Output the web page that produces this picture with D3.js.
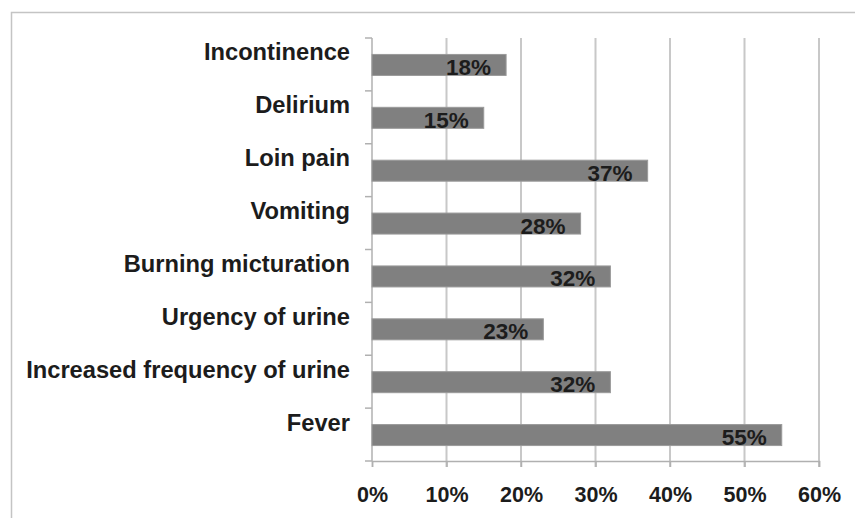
<!DOCTYPE html>
<html>
<head>
<meta charset="utf-8">
<script src="https://cdn.jsdelivr.net/npm/d3@7"></script>
<style>
  body { margin: 0; background: #fff; }
  svg { display: block; }
  text { font-family: "Liberation Sans", Arial, sans-serif; font-weight: bold; fill: #1c1c1c; }
</style>
</head>
<body>
<div class="chart"></div>
<script>
// symptoms, top to bottom
const symptoms = ['Incontinence', 'Delirium', 'Loin pain', 'Vomiting', 'Burning micturation',
    'Urgency of urine', 'Increased frequency of urine', 'Fever'];
const percents = [18, 15, 37, 28, 32, 23, 32, 55];
const xTicks = [0, 10, 20, 30, 40, 50, 60];

const width = 855;
const height = 518;
const margin = {left: 372, right: 36, top: 38, bottom: 57};

const svg = d3.select('.chart').append('svg')
    .attr('width', width)
    .attr('height', height)

// outer chart frame (cropped on right/bottom)
svg.append('path')
    .attr('d', `M11.5,${height} V12.5 H${width}`)
    .attr('fill', 'none')
    .attr('stroke', '#c4c4c4')
    .attr('stroke-width', 1.5)

const x = d3.scaleLinear().domain([0, 60]).range([margin.left, width - margin.right]);
const y = d3.scaleBand().domain(symptoms).range([margin.top, height - margin.bottom]).paddingInner(0).paddingOuter(0);

// gridlines
svg.selectAll('.grid')
    .data(xTicks.slice(1))
    .enter()
    .append('line')
    .attr('x1', d => x(d)).attr('x2', d => x(d))
    .attr('y1', margin.top).attr('y2', height - margin.bottom + 6)
    .attr('stroke', '#c8c8c8')
    .attr('stroke-width', 2)

// bottom axis
const xAxis = svg.append('g')
    .attr('transform', `translate(0,${height - margin.bottom})`)
    .call(d3.axisBottom(x).tickValues(xTicks).tickFormat(d => d + '%').tickSize(6).tickPadding(20))
xAxis.select('.domain').attr('stroke', '#b0b0b0').attr('stroke-width', 1.5)
xAxis.selectAll('.tick line').attr('stroke', '#b0b0b0').attr('stroke-width', 1.5)
xAxis.selectAll('text').attr('font-size', 21.5).attr('font-family', '"Liberation Sans", Arial, sans-serif').attr('fill', '#1c1c1c')

// left axis with ticks at band edges
svg.append('line')
    .attr('x1', margin.left).attr('x2', margin.left)
    .attr('y1', margin.top).attr('y2', height - margin.bottom)
    .attr('stroke', '#b0b0b0').attr('stroke-width', 1.5)
svg.selectAll('.ytick')
    .data(symptoms.concat(['end']))
    .enter()
    .append('line')
    .attr('x1', margin.left - 7).attr('x2', margin.left)
    .attr('y1', (d, i) => margin.top + i * y.bandwidth())
    .attr('y2', (d, i) => margin.top + i * y.bandwidth())
    .attr('stroke', '#b0b0b0').attr('stroke-width', 1.5)

// bars
const barH = 21;
svg.selectAll('.bar')
    .data(percents)
    .enter()
    .append('rect')
    .attr('x', x(0))
    .attr('y', (d, i) => y(symptoms[i]) + y.bandwidth() / 2 - barH / 2 + 0.5)
    .attr('width', d => x(d) - x(0))
    .attr('height', barH)
    .attr('fill', '#808080')
    .attr('stroke', '#9a9a9a')
    .attr('stroke-width', 1)

// value labels
svg.selectAll('.val')
    .data(percents)
    .enter()
    .append('text')
    .attr('x', d => x(d) - 15)
    .attr('y', (d, i) => y(symptoms[i]) + y.bandwidth() / 2 + barH / 2)
    .attr('text-anchor', 'end')
    .attr('font-size', 22.5)
    .text(d => d + '%')

// category labels
svg.selectAll('.cat')
    .data(symptoms)
    .enter()
    .append('text')
    .attr('x', 350)
    .attr('y', d => y(d) + y.bandwidth() / 2 - 4)
    .attr('text-anchor', 'end')
    .attr('font-size', 23.7)
    .text(d => d)
</script>
</body>
</html>
